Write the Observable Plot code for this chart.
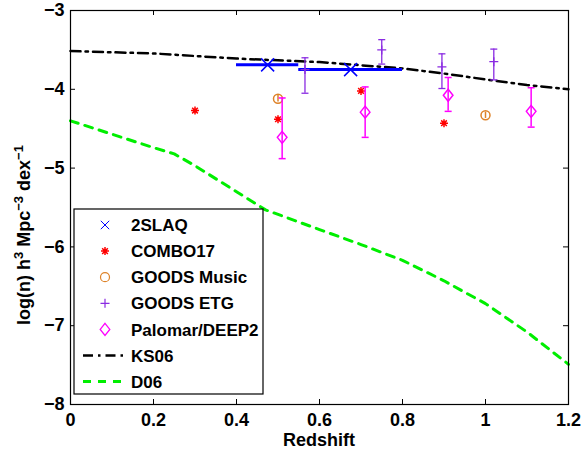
<!DOCTYPE html>
<html><head><meta charset="utf-8">
<script src="https://cdn.jsdelivr.net/npm/d3@7"></script>
<script src="https://cdn.jsdelivr.net/npm/@observablehq/plot@0.6"></script>
<style>
body{margin:0;background:#fff}
#chart svg{font-family:"Liberation Sans",Arial,Helvetica,sans-serif;background:#fff}
</style>
</head><body><div id="chart"></div>
<script>
// ---------- data ----------
const xTicks = [0, 0.2, 0.4, 0.6, 0.8, 1, 1.2];
const yTicks = [-8, -7, -6, -5, -4, -3];
const seriesNames = ["2SLAQ", "COMBO17", "GOODS Music", "GOODS ETG", "Palomar/DEEP2", "KS06", "D06"];

const slaqZ = [0.475, 0.675];
const slaqN = [-3.69, -3.75];
const slaqZlo = [0.40, 0.55];
const slaqZhi = [0.55, 0.80];

const comboZ = [0.30, 0.50, 0.70, 0.90];
const comboN = [-4.27, -4.38, -4.02, -4.43];

const musicZ = [0.50, 1.00];
const musicN = [-4.12, -4.33];
const musicLo = [-4.16, -4.37];
const musicHi = [-4.08, -4.29];

const etgZ = [0.565, 0.75, 0.895, 1.02];
const etgN = [-3.75, -3.50, -3.715, -3.65];
const etgLo = [-4.05, -3.68, -3.99, -3.88];
const etgHi = [-3.60, -3.37, -3.55, -3.49];

const palZ = [0.51, 0.71, 0.91, 1.11];
const palN = [-4.61, -4.29, -4.075, -4.28];
const palLo = [-4.88, -4.61, -4.28, -4.48];
const palHi = [-4.11, -3.97, -3.85, -3.98];

const ksZ = [0, 0.2, 0.4, 0.6, 0.8, 0.9, 1.0, 1.1, 1.2];
const ksN = [-3.515, -3.545, -3.61, -3.655, -3.735, -3.80, -3.875, -3.945, -4.00];

const dZ = [0, 0.1, 0.2, 0.25, 0.3, 0.4, 0.47, 0.6, 0.7, 0.8, 0.9, 1.0, 1.1, 1.2];
const dN = [-4.40, -4.57, -4.74, -4.82, -4.97, -5.30, -5.53, -5.78, -5.97, -6.17, -6.43, -6.72, -7.08, -7.49];

// ---------- styles ----------
const C = {slaq: "#0000ff", combo: "#ff0000", music: "#dd8228", etg: "#8a2be2", pal: "#ff00ff", ks: "#000000", d06: "#00ee00"};

// custom symbols
const rOf = s => Math.sqrt(s / Math.PI);
const star8 = {draw(ctx, s) { const r = rOf(s), d = r * Math.SQRT1_2;
  ctx.moveTo(-r, 0); ctx.lineTo(r, 0); ctx.moveTo(0, -r); ctx.lineTo(0, r);
  ctx.moveTo(-d, -d); ctx.lineTo(d, d); ctx.moveTo(-d, d); ctx.lineTo(d, -d); }};
const diamond = {draw(ctx, s) { const r = rOf(s), w = r * 0.8;
  ctx.moveTo(0, -r); ctx.lineTo(w, 0); ctx.lineTo(0, r); ctx.lineTo(-w, 0); ctx.closePath(); }};
const cap = {draw(ctx, s) { const r = rOf(s); ctx.moveTo(-r, 0); ctx.lineTo(r, 0); }};
const cross = {draw(ctx, s) { const r = rOf(s); ctx.moveTo(-r, -r); ctx.lineTo(r, r); ctx.moveTo(-r, r); ctx.lineTo(r, -r); }};
const plus = {draw(ctx, s) { const r = rOf(s); ctx.moveTo(-r, 0); ctx.lineTo(r, 0); ctx.moveTo(0, -r); ctx.lineTo(0, r); }};
const circ = {draw(ctx, s) { const r = rOf(s); ctx.moveTo(r, 0); ctx.arc(0, 0, r, 0, 2 * Math.PI); }};

const idx = a => a.map((_, i) => i);
const W = 586, H = 449, mL = 70, mR = 18, mT = 10, mB = 45;
const plotH = H - mT - mB, plotW = W - mL - mR, tk = 5;

const plot = Plot.plot({
  width: W, height: H,
  marginLeft: mL, marginRight: mR, marginTop: mT, marginBottom: mB,
  style: {fontSize: "18px", fontWeight: "bold", color: "#000", background: "#fff"},
  x: {domain: [0, 1.2]},
  y: {domain: [-8, -3]},
  marks: [
    // lines
    Plot.line(idx(dZ), {x: i => dZ[i], y: i => dN[i], stroke: C.d06, strokeWidth: 3, strokeDasharray: "8,7"}),
    Plot.line(idx(ksZ), {x: i => ksZ[i], y: i => ksN[i], stroke: C.ks, strokeWidth: 2.5, strokeDasharray: "10,5,2.5,5"}),
    // 2SLAQ
    Plot.ruleY(idx(slaqZ), {y: i => slaqN[i], x1: i => slaqZlo[i], x2: i => slaqZhi[i], stroke: C.slaq, strokeWidth: 3}),
    Plot.dot(idx(slaqZ), {x: i => slaqZ[i], y: i => slaqN[i], symbol: cross, r: 6.5, stroke: C.slaq, fill: "none", strokeWidth: 1.5}),
    // COMBO17
    Plot.dot(idx(comboZ), {x: i => comboZ[i], y: i => comboN[i], symbol: star8, r: 4, stroke: C.combo, fill: "none", strokeWidth: 1.5}),
    // GOODS Music
    Plot.ruleX(idx(musicZ), {x: i => musicZ[i], y1: i => musicLo[i], y2: i => musicHi[i], stroke: C.music, strokeWidth: 1.5}),
    Plot.dot(idx(musicZ), {x: i => musicZ[i], y: i => musicN[i], symbol: circ, r: 4.5, stroke: C.music, fill: "none", strokeWidth: 1.5}),
    // GOODS ETG
    Plot.ruleX(idx(etgZ), {x: i => etgZ[i], y1: i => etgLo[i], y2: i => etgHi[i], stroke: C.etg, strokeWidth: 1.3}),
    Plot.dot(idx(etgZ), {x: i => etgZ[i], y: i => etgLo[i], symbol: cap, r: 3.5, stroke: C.etg, strokeWidth: 1.3}),
    Plot.dot(idx(etgZ), {x: i => etgZ[i], y: i => etgHi[i], symbol: cap, r: 3.5, stroke: C.etg, strokeWidth: 1.3}),
    Plot.dot(idx(etgZ), {x: i => etgZ[i], y: i => etgN[i], symbol: plus, r: 4.5, stroke: C.etg, fill: "none", strokeWidth: 1.3}),
    // Palomar/DEEP2
    Plot.ruleX(idx(palZ), {x: i => palZ[i], y1: i => palLo[i], y2: i => palHi[i], stroke: C.pal, strokeWidth: 1.5}),
    Plot.dot(idx(palZ), {x: i => palZ[i], y: i => palLo[i], symbol: cap, r: 3.5, stroke: C.pal, strokeWidth: 1.5}),
    Plot.dot(idx(palZ), {x: i => palZ[i], y: i => palHi[i], symbol: cap, r: 3.5, stroke: C.pal, strokeWidth: 1.5}),
    Plot.dot(idx(palZ), {x: i => palZ[i], y: i => palN[i], symbol: diamond, r: 6, stroke: C.pal, fill: "none", strokeWidth: 1.5}),
    // inward ticks, all four sides
    Plot.ruleX(xTicks, {x: d => d, insetTop: plotH - tk, stroke: "#000"}),
    Plot.ruleX(xTicks, {x: d => d, insetBottom: plotH - tk, stroke: "#000"}),
    Plot.ruleY(yTicks, {y: d => d, insetRight: plotW - tk, stroke: "#000"}),
    Plot.ruleY(yTicks, {y: d => d, insetLeft: plotW - tk, stroke: "#000"}),
    Plot.frame({stroke: "#000", strokeWidth: 1.2}),
    Plot.axisX({ticks: xTicks, tickSize: 0, tickPadding: 9, tickFormat: d => String(d), label: null}),
    Plot.axisY({ticks: yTicks, tickSize: 0, tickPadding: 6, tickFormat: d => "\u2212" + Math.abs(d), label: null})
  ]
});

document.getElementById("chart").appendChild(plot);

// ---------- axis titles ----------
const svg = d3.select(plot);
svg.append("text").attr("x", mL + plotW / 2).attr("y", H - 3).attr("text-anchor", "middle")
  .attr("font-size", 18).attr("font-weight", "bold").attr("fill", "#000").text("Redshift");

const yl = svg.append("text").attr("transform", `translate(30,${mT + plotH / 2 + 28}) rotate(-90)`)
  .attr("text-anchor", "middle").attr("font-size", 18).attr("font-weight", "bold").attr("fill", "#000");
const parts = [["log(n) h", 0], ["3", 1], [" Mpc", 0], ["\u22123", 1], [" dex", 0], ["\u22121", 1]];
parts.forEach(([t, sup]) => {
  const ts = yl.append("tspan").text(t);
  if (sup) ts.attr("font-size", 13).attr("baseline-shift", "55%");
});

// ---------- legend ----------
const lg = svg.append("g").attr("text-anchor", "start");
const lx = 74, ly = 209, lw = 189, lh = 185, step = 26.1, y0 = 225;
lg.append("rect").attr("x", lx).attr("y", ly).attr("width", lw).attr("height", lh)
  .attr("fill", "#fff").attr("stroke", "#000").attr("stroke-width", 1.2);
const legendSyms = [
  {sym: cross, r: 4.2, c: C.slaq, sw: 1},
  {sym: star8, r: 4, c: C.combo, sw: 1.5},
  {sym: circ, r: 4.5, c: C.music, sw: 1.2},
  {sym: plus, r: 4.5, c: C.etg, sw: 1.2},
  {sym: diamond, r: 6, c: C.pal, sw: 1.3},
  {line: true, c: C.ks, sw: 2.5, dash: "10,5,2.5,5"},
  {line: true, c: C.d06, sw: 3, dash: "8,7"}
];
seriesNames.forEach((name, i) => {
  const y = y0 + i * step, s = legendSyms[i];
  if (s.line) {
    lg.append("line").attr("x1", 83).attr("x2", 126).attr("y1", y).attr("y2", y)
      .attr("stroke", s.c).attr("stroke-width", s.sw).attr("stroke-dasharray", s.dash);
  } else {
    lg.append("path").attr("transform", `translate(105,${y})`)
      .attr("d", d3.symbol(s.sym, Math.PI * s.r * s.r)())
      .attr("fill", "none").attr("stroke", s.c).attr("stroke-width", s.sw);
  }
  lg.append("text").attr("x", 131).attr("y", y).attr("dy", "0.36em").attr("text-anchor", "start")
    .attr("font-size", 17).attr("font-weight", "bold").attr("fill", "#000").text(name);
});
</script>
</body></html>
